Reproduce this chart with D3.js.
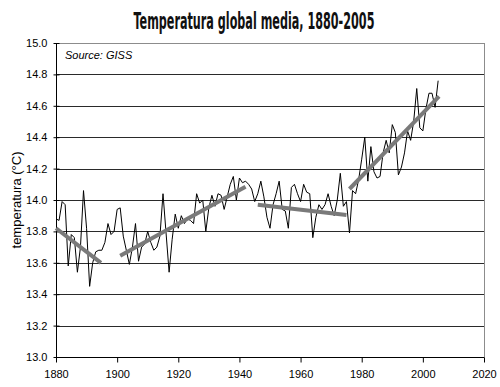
<!DOCTYPE html>
<html>
<head>
<meta charset="utf-8">
<script src="https://cdn.jsdelivr.net/npm/d3@7"></script>
<style>
  body { margin: 0; background: #fff; }
</style>
</head>
<body>
<div id="chart"></div>
<script>
// Annual global mean temperature
const years = d3.range(1880, 2006);
const temps = [
  13.88, 13.87, 13.99, 13.97, 13.58, 13.78, 13.76, 13.54, 13.70, 14.06,
  13.82, 13.45, 13.60, 13.67, 13.68, 13.68, 13.73, 13.85, 13.78, 13.80,
  13.94, 13.95, 13.77, 13.68, 13.59, 13.70, 13.85, 13.61, 13.70, 13.72,
  13.80, 13.73, 13.68, 13.70, 13.77, 14.04, 13.79, 13.54, 13.75, 13.91,
  13.82, 13.90, 13.85, 13.88, 13.87, 13.85, 14.04, 13.98, 14.00, 13.80,
  13.95, 14.03, 13.96, 14.04, 14.03, 13.94, 14.02, 14.10, 14.15, 14.00,
  14.14, 14.11, 14.12, 14.10, 14.07, 13.99, 14.04, 14.12, 14.02, 13.89,
  13.82, 13.97, 14.04, 14.12, 13.94, 13.93, 13.82, 14.08, 14.10, 14.04,
  13.99, 14.10, 14.05, 14.04, 13.76, 13.89, 13.97, 13.94, 13.97, 14.04,
  13.96, 13.90, 14.00, 14.17, 13.96, 13.99, 13.79, 14.06, 14.04, 14.13,
  14.26, 14.40, 14.12, 14.34, 14.18, 14.14, 14.15, 14.30, 14.38, 14.30,
  14.48, 14.43, 14.16, 14.21, 14.30, 14.44, 14.38, 14.50, 14.71, 14.46,
  14.44, 14.58, 14.68, 14.68, 14.59, 14.76
];

// Trend segments: start and end points [year, temp]
const trendStart = [[1880, 13.82], [1901, 13.645], [1946, 13.97], [1976, 14.07]];
const trendEnd   = [[1894.7, 13.60], [1942, 14.085], [1975, 13.905], [2005.3, 14.66]];

const xTicks = d3.range(1880, 2021, 20);
const yTicks = d3.range(13.0, 15.01, 0.2);

const width = 500, height = 387;
const margin = { top: 43, right: 16, bottom: 30, left: 56 };
const innerW = width - margin.left - margin.right;
const innerH = height - margin.top - margin.bottom;

const svg = d3.select("#chart")
  .append("svg")
  .attr("width", width)
  .attr("height", height);

svg.append("rect")
  .attr("width", width)
  .attr("height", height)
  .attr("fill", "#fff");

const x = d3.scaleLinear().domain([1880, 2020]).range([margin.left, margin.left + innerW]);
const y = d3.scaleLinear().domain([13.0, 15.0]).range([margin.top + innerH, margin.top]);

// Title - squeezed horizontally to mimic a condensed face
const titleText = svg.append("text")
  .attr("x", 0)
  .attr("y", 0)
  .attr("text-anchor", "middle")
  .attr("font-family", "'DejaVu Sans Condensed', 'Liberation Sans Narrow', sans-serif")
  .attr("font-size", "23px")
  .attr("font-weight", "bold")
  .attr("fill", "#111")
  .text("Temperatura global media, 1880-2005");
const tw = titleText.node().getComputedTextLength();
titleText.attr("transform", `translate(254,29) scale(${241 / tw},1)`);

// Plot frame (top/right grey)
svg.append("rect")
  .attr("x", x(1880) + 0.5)
  .attr("y", y(15) + 0.5)
  .attr("width", innerW)
  .attr("height", innerH)
  .attr("fill", "none")
  .attr("stroke", "#8c8c8c")
  .attr("stroke-width", 1);

// Gridlines
svg.append("g")
  .selectAll("line")
  .data(yTicks.filter(d => d > 13.05 && d < 14.95))
  .join("line")
  .attr("x1", x(1880))
  .attr("x2", x(2020))
  .attr("y1", d => Math.round(y(d)) + 0.5)
  .attr("y2", d => Math.round(y(d)) + 0.5)
  .attr("stroke", "#2a2a2a")
  .attr("stroke-width", 1);

// Axes
const yAxis = d3.axisLeft(y)
  .tickValues(yTicks)
  .tickSize(5)
  .tickPadding(4)
  .tickFormat(d3.format(".1f"));

const yG = svg.append("g")
  .attr("transform", `translate(${x(1880) + 0.5},0)`)
  .call(yAxis);

const xAxis = d3.axisBottom(x)
  .tickValues(xTicks)
  .tickSize(5)
  .tickPadding(8)
  .tickFormat(d3.format("d"));

const xG = svg.append("g")
  .attr("transform", `translate(0,${y(13) + 0.5})`)
  .call(xAxis);

[yG, xG].forEach(g => {
  g.select(".domain").attr("stroke", "#000");
  g.selectAll(".tick line").attr("stroke", "#000");
  g.selectAll(".tick text")
    .attr("font-family", "'Liberation Sans', Arial, sans-serif")
    .attr("font-size", "11px")
    .attr("fill", "#000");
});
yG.selectAll(".tick line").attr("x2", 3).attr("x1", -3);
yG.select(".domain").attr("d", `M0,${y(15)}V${y(13)}`);
xG.select(".domain").attr("d", `M${x(1880)},0H${x(2020)}`);

// Y axis title
svg.append("text")
  .attr("transform", `translate(21,${y(14)}) rotate(-90)`)
  .attr("text-anchor", "middle")
  .attr("font-family", "'Liberation Sans', Arial, sans-serif")
  .attr("font-size", "13px")
  .attr("fill", "#000")
  .text("temperatura (°C)");

// Source note
svg.append("text")
  .attr("x", 65)
  .attr("y", 59)
  .attr("font-family", "'Liberation Sans', Arial, sans-serif")
  .attr("font-size", "11px")
  .attr("font-style", "italic")
  .attr("fill", "#000")
  .text("Source: GISS");

// Temperature series
const line = d3.line()
  .x((d, i) => x(years[i]))
  .y(d => y(d));

svg.append("path")
  .datum(temps)
  .attr("d", line)
  .attr("fill", "none")
  .attr("stroke", "#000")
  .attr("stroke-width", 1);

// Trend lines
svg.append("g")
  .selectAll("line")
  .data(trendStart)
  .join("line")
  .attr("x1", d => x(d[0]))
  .attr("y1", d => y(d[1]))
  .attr("x2", (d, i) => x(trendEnd[i][0]))
  .attr("y2", (d, i) => y(trendEnd[i][1]))
  .attr("stroke", "#7a7a7a")
  .attr("stroke-width", 4);
</script>
</body>
</html>
